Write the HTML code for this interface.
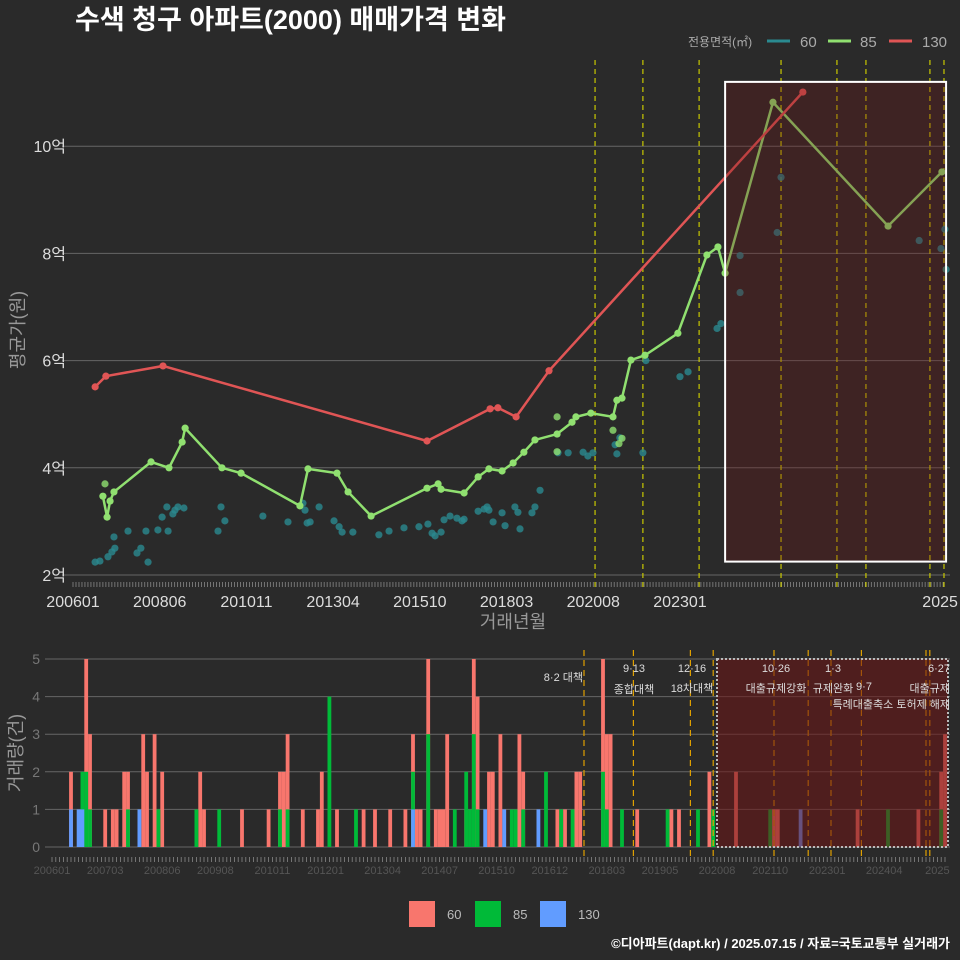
<!DOCTYPE html>
<html><head><meta charset="utf-8">
<style>
html,body{margin:0;padding:0;background:#2a2a2a;}
svg{display:block;font-family:"Liberation Sans","Noto Sans CJK KR",sans-serif;}
</style></head>
<body>
<svg id="c" width="960" height="960" viewBox="0 0 960 960" xmlns="http://www.w3.org/2000/svg">
<rect width="960" height="960" fill="#2a2a2a"/>
<text x="75" y="29" fill="#ffffff" font-size="27" font-weight="bold">수색 청구 아파트(2000) 매매가격 변화</text>
<g font-size="14" fill="#aaaaaa">
<text x="688" y="46" font-size="12">전용면적(㎡)</text>
<line x1="767" y1="41" x2="790" y2="41" stroke="#2a8a90" stroke-width="3"/>
<text x="800" y="47" font-size="15">60</text>
<line x1="828" y1="41" x2="851" y2="41" stroke="#90e070" stroke-width="3"/>
<text x="860" y="47" font-size="15">85</text>
<line x1="889" y1="41" x2="912" y2="41" stroke="#e05555" stroke-width="3"/>
<text x="922" y="47" font-size="15">130</text>
</g>
<g id="topg"></g>
<g id="botg"></g>
<g font-size="13" fill="#bbbbbb">
<rect x="409" y="901" width="26" height="26" fill="#f8766d"/><text x="447" y="919">60</text>
<rect x="475" y="901" width="26" height="26" fill="#00ba38"/><text x="513" y="919">85</text>
<rect x="540" y="901" width="26" height="26" fill="#619cff"/><text x="578" y="919">130</text>
</g>
<text x="950" y="948" text-anchor="end" fill="#ffffff" font-size="13" font-weight="bold">©디아파트(dapt.kr) / 2025.07.15 / 자료=국토교통부 실거래가</text>
</svg>
<script>
const topTickLabels=["200601","200806","201011","201304","201510","201803","202008","202301","2025"];
const topTickPos=[0,29,58,87,116,145,174,203,290];
const yTicks=[2,4,6,8,10];
const red_t=[7.4,11.0,30.1,118.4,139.5,142.1,148.2,159.2,244.1];
const red_v=[5.51,5.71,5.90,4.50,5.10,5.12,4.95,5.81,11.01];
const green_t=[10.0,11.4,12.4,13.7,26.1,32.1,36.5,37.5,49.8,56.2,75.9,78.6,88.3,92.0,99.7,118.4,122.1,123.1,130.8,135.5,139.1,143.5,147.2,150.8,154.5,161.9,166.9,168.2,173.2,180.6,181.9,183.6,186.6,191.3,202.3,212.0,215.7,218.1,234.1,272.6,290.6];
const green_v=[3.47,3.08,3.38,3.55,4.11,4.00,4.48,4.74,4.00,3.90,3.29,3.98,3.90,3.55,3.10,3.62,3.70,3.60,3.53,3.83,3.98,3.94,4.09,4.29,4.52,4.63,4.85,4.95,5.02,4.95,5.26,5.30,6.01,6.10,6.51,7.97,8.12,7.63,10.82,8.51,9.52];
const greenExtra_t=[10.7,161.9,161.9,180.6,182.6,183.6];
const greenExtra_v=[3.70,4.95,4.30,4.70,4.45,4.55];
const teal_t=[7.4,9.0,11.7,13.0,14.0,13.7,18.4,21.4,22.7,24.4,25.1,28.4,29.8,31.4,31.8,33.4,34.1,35.1,37.1,48.5,49.5,50.8,63.5,71.9,76.9,77.6,78.3,79.3,82.3,87.3,89.0,90.0,93.6,102.3,105.7,110.7,115.7,118.7,120.1,121.1,123.1,124.1,126.1,128.4,130.1,130.8,135.5,137.5,138.5,139.1,140.5,143.5,144.5,147.8,148.8,149.5,153.5,154.5,156.2,162.2,165.6,170.6,172.2,173.9,181.3,181.9,182.9,190.6,191.6,203.0,205.7,215.4,216.7,223.1,223.1,235.5,236.8,283.0,290.3,291.6,292.0];
const teal_v=[2.24,2.26,2.34,2.43,2.50,2.71,2.82,2.41,2.50,2.82,2.24,2.84,3.08,3.27,2.82,3.14,3.21,3.27,3.25,2.82,3.27,3.01,3.10,2.99,3.34,3.21,2.97,2.99,3.27,3.01,2.90,2.80,2.80,2.75,2.82,2.88,2.90,2.95,2.78,2.73,2.80,3.03,3.10,3.06,3.01,3.04,3.19,3.23,3.27,3.21,2.99,3.16,2.92,3.27,3.17,2.86,3.16,3.27,3.58,4.28,4.28,4.29,4.22,4.28,4.43,4.26,4.56,4.28,6.00,5.70,5.79,6.60,6.69,7.27,7.96,8.39,9.42,8.24,8.09,8.45,7.70];
const topVlines=[174.6,190.6,209.4,236.8,255.5,265.2,286.6,291.3];
const topBox=[218.1,292,11.2,2.25];
const botTickLabels=["200601","200703","200806","200908","201011","201201","201304","201407","201510","201612","201803","201905","202008","202110","202301","202404","2025"];
const botTickMonths=[0,14,29,43,58,72,87,102,117,131,146,160,175,189,204,219,233];
const botYTicks=[0,1,2,3,4,5];
const p60_m=[5,9,10,14,16,17,19,20,24,25,27,29,39,40,50,57,60,61,62,66,70,71,75,82,85,89,93,95,96,97,99,101,102,103,104,109,111,112,115,116,118,119,123,124,133,135,138,139,145,146,147,154,163,165,173,180,190,191,212,228,234,235];
const p60_v=[2,5,3,1,1,1,2,2,3,2,3,2,2,1,1,1,2,2,3,1,1,2,1,1,1,1,1,3,1,1,5,1,1,1,3,1,5,4,2,2,3,1,3,2,1,1,2,2,5,3,3,1,1,1,2,2,1,1,1,1,2,3];
const p85_m=[8,9,10,20,28,38,44,60,62,73,80,95,99,106,109,110,111,112,121,122,124,130,134,137,145,146,150,162,170,174,189,220,234];
const p85_v=[2,2,1,1,1,1,1,1,1,4,1,2,3,1,2,1,3,1,1,1,1,2,1,1,2,1,1,1,1,1,1,1,1];
const p130_m=[5,7,8,23,95,114,119,128,197];
const p130_v=[1,1,1,1,1,1,1,1,1];
const policyMonths=[140,153,168,174,190,199,205,213,230,231];

const NS="http://www.w3.org/2000/svg";
function mk(tag,attrs,parent,txt){const e=document.createElementNS(NS,tag);for(const k in attrs)e.setAttribute(k,attrs[k]);if(txt!==undefined)e.textContent=txt;parent.appendChild(e);return e;}
const tx=t=>73+2.99*t;
const ty=v=>575-(v-2)*53.6;
const gTop=document.getElementById('topg');
yTicks.forEach(v=>{
 const l=mk('line',{x1:62,x2:950,y1:ty(v),y2:ty(v),stroke:'#666',"stroke-width":1},gTop);
 
 
 const t=mk('text',{x:66,y:ty(v)+6,"text-anchor":"end",fill:'#dddddd',"font-size":16},gTop,v+'억');
 
 
});
for(let m=0;m<292;m++){mk('line',{x1:tx(m),x2:tx(m),y1:582,y2:587,stroke:'#888',"stroke-width":0.8},gTop);}
topTickLabels.forEach((s,i)=>{
 const t=mk('text',{x:tx(topTickPos[i]),y:607,"text-anchor":"middle",fill:'#dddddd',"font-size":16},gTop,s);
 
 
});
let a=mk('text',{x:513,y:628,"text-anchor":"middle",fill:'#999',"font-size":18},gTop,'거래년월');


a=mk('text',{x:24,y:330,"text-anchor":"middle",fill:'#999',"font-size":18,transform:'rotate(-90 24 330)'},gTop,'평균가(원)');


topVlines.forEach(t=>{const l=mk('line',{x1:tx(t),x2:tx(t),y1:60,y2:590,stroke:'#c8c800',"stroke-width":1.2,"stroke-dasharray":"5,4"},gTop);
 
 });
teal_t.forEach((t,i)=>{const c=mk('circle',{cx:tx(t),cy:ty(teal_v[i]),r:3.6,fill:'#2a8a90',opacity:0.8},gTop);
 
 });
function line(ts,vs,col,name){
 const p=mk('polyline',{points:ts.map((t,i)=>tx(t)+','+ty(vs[i])).join(' '),fill:'none',stroke:col,"stroke-width":2.5},gTop);
 
 
 ts.forEach((t,i)=>{const c=mk('circle',{cx:tx(t),cy:ty(vs[i]),r:3.6,fill:col},gTop);
  
  });
}
greenExtra_t.forEach((t,i)=>{const c=mk('circle',{cx:tx(t),cy:ty(greenExtra_v[i]),r:3.6,fill:'#90e070',opacity:0.8},gTop);
 
 });
line(green_t,green_v,'#90e070','line-85');
line(red_t,red_v,'#e05555','line-130');
a=mk('rect',{x:tx(topBox[0]),y:ty(topBox[2]),width:tx(topBox[1])-tx(topBox[0]),height:ty(topBox[3])-ty(topBox[2]),fill:'rgba(110,20,20,0.3)',stroke:'#ffffff',"stroke-width":2},gTop);



const bx=m=>52+3.8*m;
const by=v=>847-v*37.6;
const gBot=document.getElementById('botg');
botYTicks.forEach(v=>{
 const l=mk('line',{x1:45,x2:950,y1:by(v),y2:by(v),stroke:'#666',"stroke-width":1},gBot);
 
 
 const t=mk('text',{x:40,y:by(v)+5,"text-anchor":"end",fill:'#777',"font-size":14},gBot,v);
 
 
});
for(let m=0;m<236;m++){mk('line',{x1:bx(m),x2:bx(m),y1:857,y2:862,stroke:'#888',"stroke-width":0.8},gBot);}
botTickLabels.forEach((s,i)=>{const t=mk('text',{x:bx(botTickMonths[i]),y:874,"text-anchor":"middle",fill:'#555',"font-size":11},gBot,s);
 
 });
a=mk('text',{x:22,y:753,"text-anchor":"middle",fill:'#999',"font-size":18,transform:'rotate(-90 22 753)'},gBot,'거래량(건)');


function bars(ms,vs,col,name){ms.forEach((m,i)=>{const r=mk('rect',{x:bx(m)-1.9,y:by(vs[i]),width:3.8,height:by(0)-by(vs[i]),fill:col},gBot);
 
 });}
bars(p60_m,p60_v,'#f8766d','bar-60');
bars(p85_m,p85_v,'#00ba38','bar-85');
bars(p130_m,p130_v,'#619cff','bar-130');
policyMonths.forEach(m=>{
 const l=mk('line',{x1:bx(m),x2:bx(m),y1:650,y2:857,stroke:'#e0a000',"stroke-width":1.2,"stroke-dasharray":"6,4"},gBot);
 
 
});
a=mk('rect',{x:bx(175),y:by(5),width:948-bx(175),height:by(0)-by(5),fill:'rgba(110,20,20,0.55)',stroke:'#bbbbbb',"stroke-width":2,"stroke-dasharray":"2,2"},gBot);


const pl=[[583,681,"8·2 대책","end"],[634,672,"9·13","middle"],[634,693,"종합대책","middle"],[692,672,"12·16","middle"],[692,692,"18차대책","middle"],[776,672,"10·26","middle"],[776,692,"대출규제강화","middle"],[833,672,"1·3","middle"],[833,692,"규제완화","middle"],[864,690,"9·7","middle"],[950,708,"특례대출축소 토허제 해제","end"],[950,672,"6·27","end"],[950,692,"대출규제","end"]];
pl.forEach(p=>{const t=mk('text',{x:p[0],y:p[1],"text-anchor":p[3],fill:'#dddddd',"font-size":11},gBot,p[2]);
 
 });
</script>
</body></html>
